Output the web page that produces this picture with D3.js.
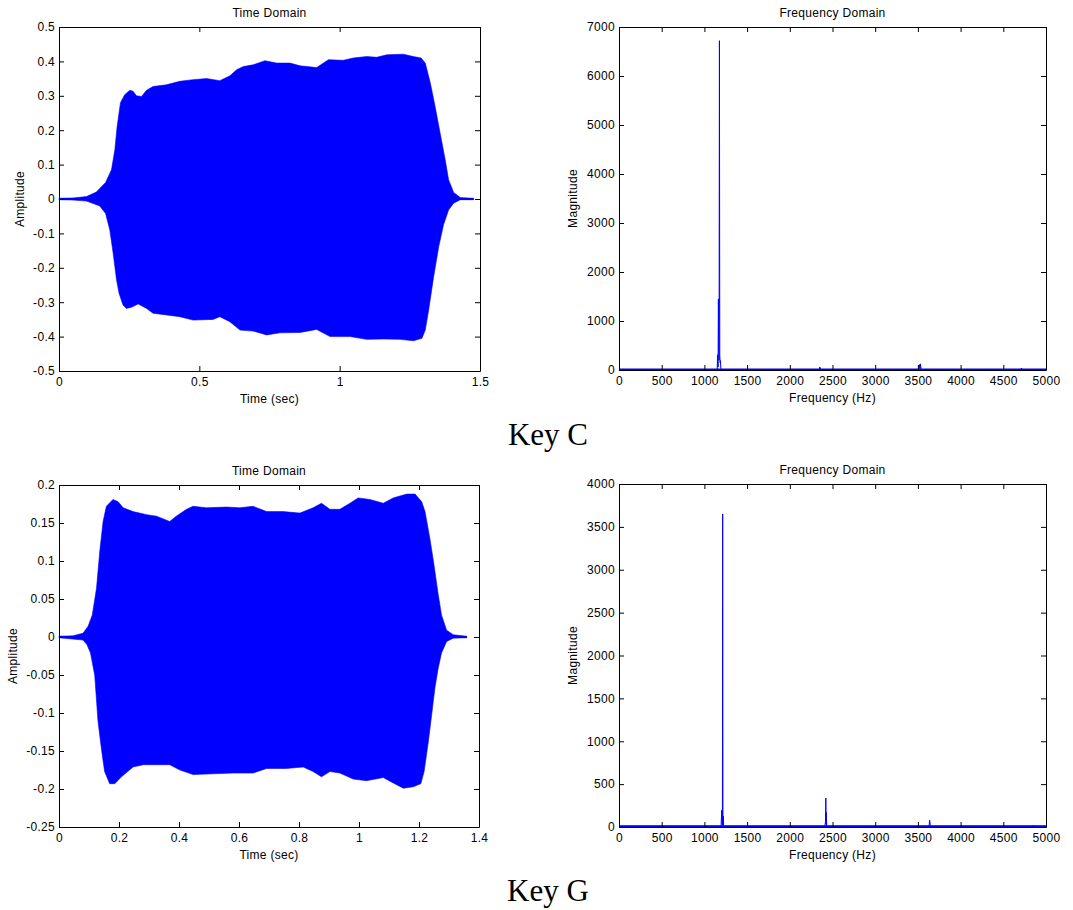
<!DOCTYPE html>
<html lang="en">
<head>
<meta charset="utf-8">
<title>Key C / Key G</title>
<script src="https://cdn.jsdelivr.net/npm/d3@7/dist/d3.min.js"></script>
<style>
  body { margin: 0; background: #fff; }
  svg { display: block; background: #fff; }
  .lbl { font-family: "Liberation Sans", Arial, sans-serif; font-size: 12px; letter-spacing: 0.3px; fill: #000; }
  .axis text { font-family: "Liberation Sans", Arial, sans-serif; font-size: 12px; letter-spacing: 0.3px; fill: #000; }
  .axis path, .axis line { stroke: #000; }
  .caption { font-family: "Liberation Serif", "Times New Roman", serif; font-size: 31px; fill: #000; }
</style>
</head>
<body>
<svg width="1073" height="910"></svg>
<script>
// Key C - envelope of the time signal, [time (s), amplitude]
var keyCUpper = [[0,0.002],[0.05,0.003],[0.098,0.007],[0.133,0.02],[0.166,0.048],[0.187,0.085],[0.199,0.143],[0.207,0.21],[0.219,0.28],[0.234,0.303],[0.252,0.316],[0.264,0.313],[0.276,0.300],[0.294,0.298],[0.312,0.316],[0.335,0.327],[0.383,0.332],[0.43,0.342],[0.478,0.347],[0.526,0.35],[0.573,0.344],[0.609,0.358],[0.633,0.376],[0.657,0.385],[0.692,0.39],[0.734,0.402],[0.775,0.395],[0.823,0.395],[0.859,0.387],[0.918,0.382],[0.96,0.405],[1.013,0.403],[1.049,0.41],[1.096,0.414],[1.132,0.412],[1.168,0.419],[1.227,0.421],[1.263,0.414],[1.29,0.41],[1.305,0.395],[1.323,0.337],[1.34,0.269],[1.358,0.191],[1.376,0.114],[1.388,0.056],[1.406,0.019],[1.43,0.004],[1.477,0.002]];
var keyCLower = [[0,-0.002],[0.05,-0.003],[0.098,-0.006],[0.145,-0.02],[0.166,-0.042],[0.181,-0.09],[0.193,-0.158],[0.205,-0.235],[0.214,-0.274],[0.228,-0.308],[0.24,-0.318],[0.258,-0.315],[0.282,-0.305],[0.312,-0.318],[0.335,-0.332],[0.383,-0.337],[0.43,-0.342],[0.478,-0.352],[0.549,-0.35],[0.573,-0.342],[0.609,-0.357],[0.645,-0.381],[0.692,-0.384],[0.74,-0.395],[0.787,-0.389],[0.859,-0.388],[0.918,-0.379],[0.966,-0.4],[1.037,-0.4],[1.096,-0.408],[1.156,-0.407],[1.215,-0.408],[1.263,-0.412],[1.293,-0.405],[1.305,-0.381],[1.317,-0.323],[1.335,-0.225],[1.353,-0.138],[1.37,-0.075],[1.388,-0.032],[1.406,-0.012],[1.43,-0.002],[1.477,-0.002]];

// Key C - spectrum
var keyCFreq = [0, 1140, 1150, 1155, 1160, 1164, 1168, 1172, 1176, 1180, 1184, 1188, 1192, 1196, 1205, 2345, 2352, 2360, 3510, 3518, 3524, 3530, 3536, 3545, 4705, 4712, 4720, 5000];
var keyCMag  = [8, 8, 20, 310, 60, 1450, 400, 200, 6720, 300, 150, 190, 40, 10, 8, 8, 60, 8, 8, 110, 30, 125, 20, 8, 8, 40, 8, 8];

// Key G - envelope of the time signal
var keyGUpper = [[0,0.001],[0.047,0.0015],[0.08,0.005],[0.097,0.014],[0.111,0.029],[0.125,0.064],[0.136,0.113],[0.147,0.152],[0.158,0.172],[0.18,0.181],[0.197,0.178],[0.214,0.170],[0.247,0.165],[0.292,0.161],[0.325,0.159],[0.369,0.152],[0.391,0.159],[0.425,0.168],[0.447,0.172],[0.491,0.170],[0.558,0.171],[0.603,0.170],[0.647,0.172],[0.692,0.165],[0.747,0.165],[0.803,0.163],[0.847,0.170],[0.875,0.176],[0.903,0.168],[0.936,0.168],[0.97,0.176],[0.997,0.183],[1.036,0.181],[1.081,0.176],[1.114,0.183],[1.159,0.188],[1.187,0.188],[1.209,0.178],[1.22,0.165],[1.236,0.13],[1.248,0.1],[1.264,0.056],[1.275,0.029],[1.292,0.009],[1.314,0.003],[1.359,0.001]];
var keyGLower = [[0,-0.001],[0.08,-0.004],[0.093,-0.01],[0.105,-0.021],[0.119,-0.05],[0.13,-0.111],[0.141,-0.146],[0.152,-0.177],[0.169,-0.193],[0.186,-0.193],[0.208,-0.184],[0.247,-0.171],[0.281,-0.168],[0.325,-0.168],[0.369,-0.168],[0.403,-0.175],[0.447,-0.181],[0.514,-0.180],[0.58,-0.179],[0.647,-0.179],[0.692,-0.173],[0.758,-0.173],[0.814,-0.171],[0.847,-0.177],[0.875,-0.184],[0.903,-0.177],[0.936,-0.179],[0.981,-0.187],[1.025,-0.189],[1.081,-0.185],[1.114,-0.192],[1.148,-0.199],[1.181,-0.197],[1.206,-0.193],[1.217,-0.177],[1.231,-0.138],[1.242,-0.103],[1.253,-0.067],[1.264,-0.041],[1.275,-0.021],[1.292,-0.006],[1.314,-0.0015],[1.359,-0.001]];

// Key G - spectrum
var keyGFreq = [0, 1195, 1203, 1207, 1211, 1214, 1217, 1221, 1225, 1235, 2410, 2418, 2422, 2425, 2428, 2432, 2440, 3630, 3638, 3646, 4840, 4848, 4856, 5000];
var keyGMag  = [8, 8, 195, 60, 20, 3650, 40, 125, 10, 8, 8, 60, 338, 30, 170, 10, 8, 8, 78, 8, 8, 20, 8, 8];

var noiseFloor = 10;

// ticks
var timeCTicks = [0, 0.5, 1, 1.5];
var timeCLabels = ["0", "0.5", "1", "1.5"];
var ampCTicks = [-0.5, -0.4, -0.3, -0.2, -0.1, 0, 0.1, 0.2, 0.3, 0.4, 0.5];
var ampCLabels = ["-0.5", "-0.4", "-0.3", "-0.2", "-0.1", "0", "0.1", "0.2", "0.3", "0.4", "0.5"];
var timeGTicks = [0, 0.2, 0.4, 0.6, 0.8, 1, 1.2, 1.4];
var timeGLabels = ["0", "0.2", "0.4", "0.6", "0.8", "1", "1.2", "1.4"];
var ampGTicks = [-0.25, -0.2, -0.15, -0.1, -0.05, 0, 0.05, 0.1, 0.15, 0.2];
var ampGLabels = ["-0.25", "-0.2", "-0.15", "-0.1", "-0.05", "0", "0.05", "0.1", "0.15", "0.2"];
var freqTicks = [0, 500, 1000, 1500, 2000, 2500, 3000, 3500, 4000, 4500, 5000];
var freqLabels = ["0", "500", "1000", "1500", "2000", "2500", "3000", "3500", "4000", "4500", "5000"];
var magCTicks = [0, 1000, 2000, 3000, 4000, 5000, 6000, 7000];
var magCLabels = ["0", "1000", "2000", "3000", "4000", "5000", "6000", "7000"];
var magGTicks = [0, 500, 1000, 1500, 2000, 2500, 3000, 3500, 4000];
var magGLabels = ["0", "500", "1000", "1500", "2000", "2500", "3000", "3500", "4000"];

var svg = d3.select("svg");
var blue = "#0000ff";

function fmt(ticks, labels) {
    return function(d) { return labels[ticks.indexOf(d)]; };
}

function drawPanel(p) {
    var x = d3.scaleLinear().domain(p.xDomain).range([p.left, p.right]);
    var y = d3.scaleLinear().domain(p.yDomain).range([p.bottom, p.top]);
    var g = svg.append("g");

    // data
    p.draw(g, x, y);

    // box axes, ticks pointing inward
    g.append("g").attr("class", "axis")
        .attr("transform", "translate(0," + p.bottom + ")")
        .call(d3.axisBottom(x).tickValues(p.xTicks).tickFormat(fmt(p.xTicks, p.xLabels))
            .tickSize(-5).tickSizeOuter(0).tickPadding(6));
    g.append("g").attr("class", "axis")
        .attr("transform", "translate(0," + p.top + ")")
        .call(d3.axisTop(x).tickValues(p.xTicks).tickFormat("").tickSize(-5).tickSizeOuter(0));
    g.append("g").attr("class", "axis")
        .attr("transform", "translate(" + p.left + ",0)")
        .call(d3.axisLeft(y).tickValues(p.yTicks).tickFormat(fmt(p.yTicks, p.yLabels))
            .tickSize(-5).tickSizeOuter(0).tickPadding(4));
    g.append("g").attr("class", "axis")
        .attr("transform", "translate(" + p.right + ",0)")
        .call(d3.axisRight(y).tickValues(p.yTicks).tickFormat("").tickSize(-5).tickSizeOuter(0));
    g.selectAll(".axis").attr("font-family", null).attr("font-size", null);

    var cx = (p.left + p.right) / 2;
    g.append("text").attr("class", "lbl").attr("x", cx).attr("y", p.top - 10)
        .attr("text-anchor", "middle").text(p.title);
    g.append("text").attr("class", "lbl").attr("x", cx).attr("y", p.bottom + 32)
        .attr("text-anchor", "middle").text(p.xTitle);
    g.append("text").attr("class", "lbl")
        .attr("transform", "translate(" + (p.left - p.yTitleGap) + "," + ((p.top + p.bottom) / 2) + ") rotate(-90)")
        .attr("text-anchor", "middle").text(p.yTitle);
}

function drawWave(upper, lower) {
    return function(g, x, y) {
        var line = d3.line().x(function(d) { return x(d[0]); }).y(function(d) { return y(d[1]); });
        var ring = upper.concat(lower.slice().reverse());
        g.append("path").attr("d", line(ring) + "Z").attr("fill", blue).attr("stroke", blue).attr("stroke-width", 0.6);
        var tEnd = upper[upper.length - 1][0];
        g.append("path").attr("d", line([[0, 0], [tEnd, 0]]))
            .attr("fill", "none").attr("stroke", blue).attr("stroke-width", 2);
    };
}

function drawSpectrum(freq, mag) {
    return function(g, x, y) {
        var pts = freq.map(function(f, i) { return [f, mag[i]]; });
        var line = d3.line().x(function(d) { return x(d[0]); }).y(function(d) { return y(d[1]); });
        g.append("path").attr("d", line([[freq[0], noiseFloor], [freq[freq.length - 1], noiseFloor]]))
            .attr("fill", "none").attr("stroke", blue).attr("stroke-width", 2);
        g.append("path").attr("d", line(pts))
            .attr("fill", "none").attr("stroke", blue).attr("stroke-width", 1);
    };
}

drawPanel({
    left: 59, right: 480, top: 27, bottom: 371,
    xDomain: [0, 1.5], yDomain: [-0.5, 0.5],
    xTicks: timeCTicks, xLabels: timeCLabels, yTicks: ampCTicks, yLabels: ampCLabels,
    title: "Time Domain", xTitle: "Time (sec)", yTitle: "Amplitude", yTitleGap: 35,
    draw: drawWave(keyCUpper, keyCLower)
});
drawPanel({
    left: 619, right: 1046, top: 27, bottom: 370,
    xDomain: [0, 5000], yDomain: [0, 7000],
    xTicks: freqTicks, xLabels: freqLabels, yTicks: magCTicks, yLabels: magCLabels,
    title: "Frequency Domain", xTitle: "Frequency (Hz)", yTitle: "Magnitude", yTitleGap: 42,
    draw: drawSpectrum(keyCFreq, keyCMag)
});
drawPanel({
    left: 59, right: 479, top: 485, bottom: 827,
    xDomain: [0, 1.4], yDomain: [-0.25, 0.2],
    xTicks: timeGTicks, xLabels: timeGLabels, yTicks: ampGTicks, yLabels: ampGLabels,
    title: "Time Domain", xTitle: "Time (sec)", yTitle: "Amplitude", yTitleGap: 42,
    draw: drawWave(keyGUpper, keyGLower)
});
drawPanel({
    left: 619, right: 1046, top: 484, bottom: 827,
    xDomain: [0, 5000], yDomain: [0, 4000],
    xTicks: freqTicks, xLabels: freqLabels, yTicks: magGTicks, yLabels: magGLabels,
    title: "Frequency Domain", xTitle: "Frequency (Hz)", yTitle: "Magnitude", yTitleGap: 42,
    draw: drawSpectrum(keyGFreq, keyGMag)
});

// captions
svg.append("text").attr("class", "caption").attr("x", 548).attr("y", 445)
    .attr("text-anchor", "middle").text("Key C");
svg.append("text").attr("class", "caption").attr("x", 548).attr("y", 901)
    .attr("text-anchor", "middle").text("Key G");
</script>
</body>
</html>
